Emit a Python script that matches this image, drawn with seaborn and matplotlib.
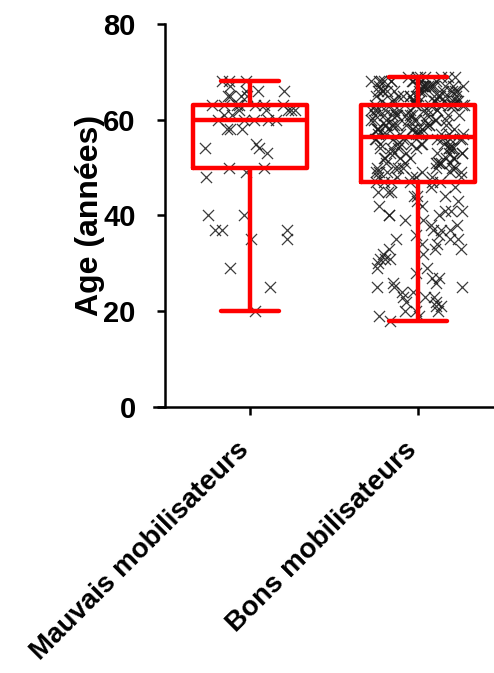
import numpy as np
import pandas as pd
import matplotlib
matplotlib.use("Agg")
import matplotlib.pyplot as plt
import matplotlib.transforms as mtransforms
import seaborn as sns

# ---- data ----
categories = ["Mauvais mobilisateurs", "Bons mobilisateurs"]

mauvais_ages = [20, 25, 29, 35, 35, 37, 37, 37, 40, 40, 48, 49, 50, 50, 53, 54, 54,
                55, 58, 58, 58, 60, 60, 60, 60, 60, 61, 61, 62, 62, 62, 62, 62,
                63, 63, 63, 63, 63, 63, 63, 65, 65, 65, 65, 66, 66, 66, 67, 68, 68, 68]

bons_age_values = list(range(18, 70))
bons_age_counts = [1, 2, 3, 2, 2, 3, 2, 3, 2, 2,      # 18-27
                   1, 2, 1, 3, 2, 3, 2, 3, 2, 3,      # 28-37
                   2, 2, 3, 3, 2, 2, 3, 3, 2,         # 38-46
                   6, 6, 6, 7, 7, 7, 7, 8, 8, 9,      # 47-56
                   9, 10, 10, 10, 11, 11, 11,         # 57-63
                   12, 12, 12, 12, 10, 7]             # 64-69

y_label = "Age (années)"
y_ticks = [0, 20, 40, 60, 80]

bons_ages = list(np.repeat(bons_age_values, bons_age_counts))
df = pd.DataFrame({
    "groupe": [categories[0]] * len(mauvais_ages) + [categories[1]] * len(bons_ages),
    "age": mauvais_ages + bons_ages,
})

# ---- figure ----
sns.set_theme(style="ticks")
plt.rcParams["font.family"] = ["Liberation Sans", "DejaVu Sans"]
plt.rcParams["font.weight"] = "bold"

fig = plt.figure(figsize=(4.94, 6.73), dpi=100)
ax_left_px, ax_right_px, ax_top_px, ax_bot_px = 154, 494, 24, 407
ax = fig.add_axes([ax_left_px / 494, 1 - ax_bot_px / 673,
                   (ax_right_px - ax_left_px) / 494, (ax_bot_px - ax_top_px) / 673])

np.random.seed(3)
sns.stripplot(data=df, x="groupe", y="age", order=categories, ax=ax,
              marker="x", color="#1a1a1a", size=8, linewidth=0.9,
              jitter=0.28, alpha=0.85, zorder=1)
sns.boxplot(data=df, x="groupe", y="age", order=categories, ax=ax,
            whis=(0, 100), fill=False, color="#ff0000", linewidth=3.2,
            width=0.68, showfliers=False)

for ln in ax.lines:
    ln.set_color("#ff0000")
    ln.set_zorder(3)

px_per_cat = 168
ax.set_xlim(-(250 - ax_left_px) / px_per_cat, 1 + (ax_right_px - 418) / px_per_cat)
ax.set_ylim(0, 80)
ax.set_yticks(y_ticks)
ax.set_xlabel("")
ax.set_ylabel(y_label, fontsize=23, fontweight="bold", color="black")
ax.yaxis.set_label_coords((105 - ax_left_px) / (ax_right_px - ax_left_px), 0.5)

sns.despine(ax=ax)
ax.spines["left"].set_position(("data", -(250 - 165) / px_per_cat))
for s in ["left", "bottom"]:
    ax.spines[s].set_linewidth(1.8)
    ax.spines[s].set_color("black")
ax.tick_params(axis="both", direction="out", length=6, width=1.8, color="black",
               labelcolor="black")
ax.tick_params(axis="y", pad=15, labelsize=21)
ax.tick_params(axis="x", pad=22, labelsize=20)
for t in ax.get_yticklabels():
    t.set_fontweight("bold")
offset = mtransforms.ScaledTranslation(-5 / 100, 0, fig.dpi_scale_trans)
for t in ax.get_xticklabels():
    t.set_fontweight("bold")
    t.set_rotation(45)
    t.set_ha("right")
    t.set_va("center")
    t.set_rotation_mode("anchor")
    t.set_transform(t.get_transform() + offset)

fig.savefig("out.png", dpi=100)
